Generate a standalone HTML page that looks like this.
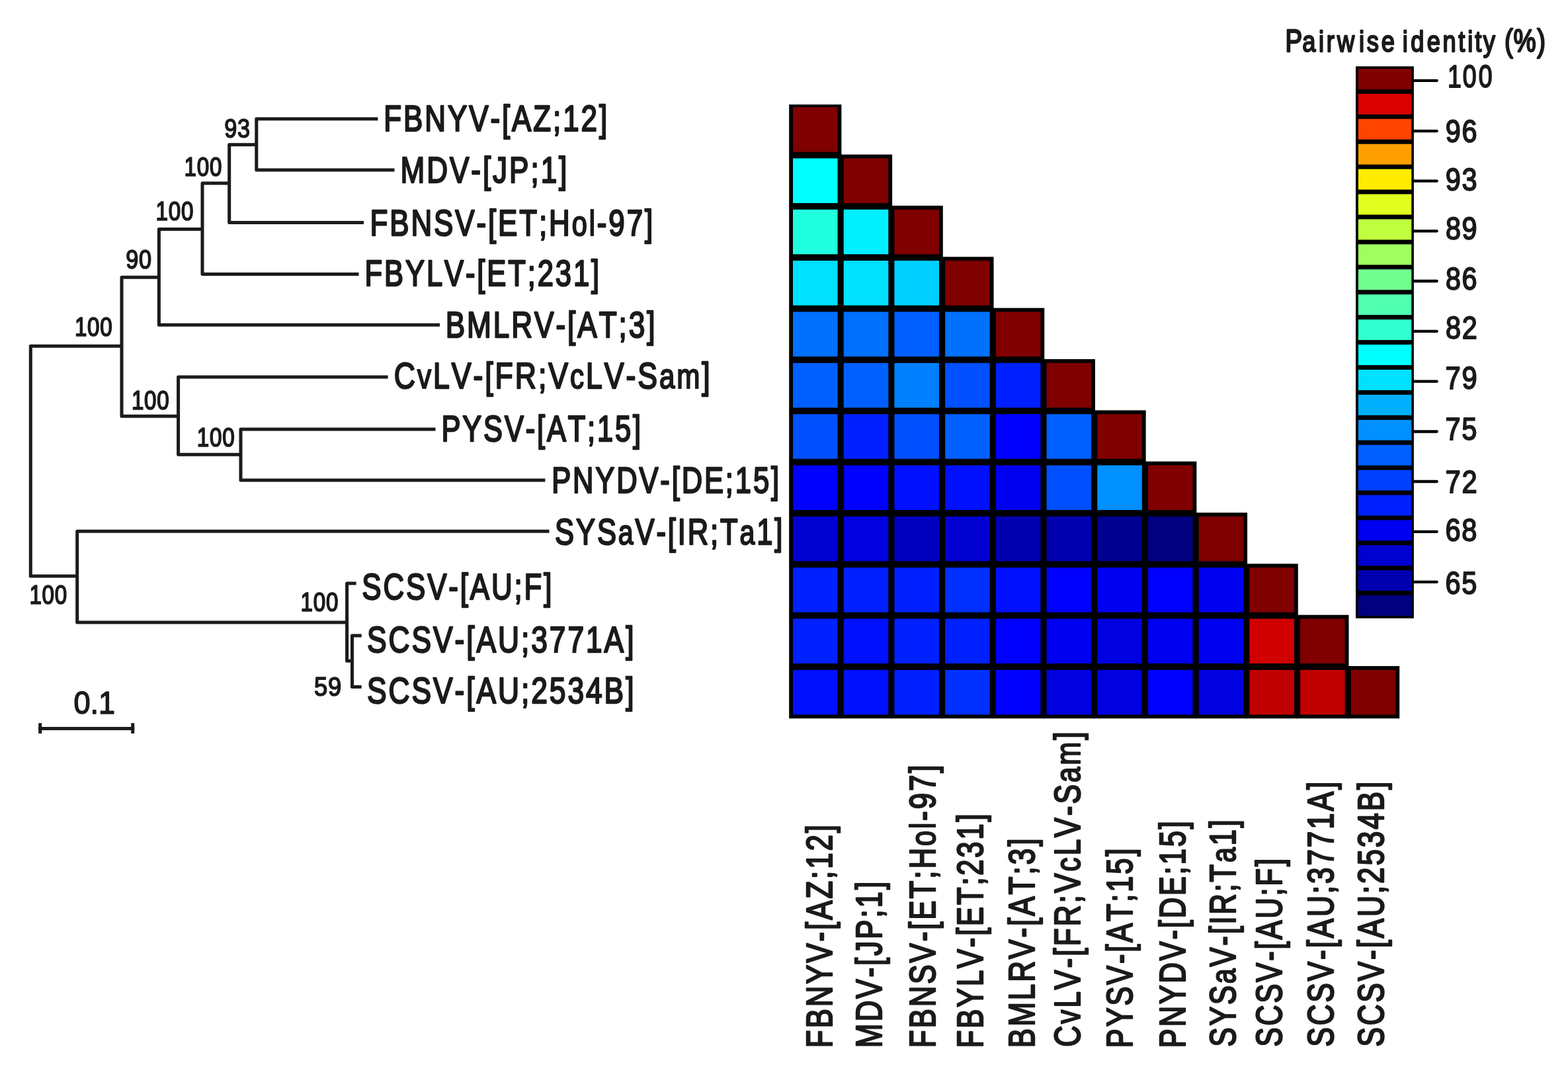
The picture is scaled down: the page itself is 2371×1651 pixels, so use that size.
<!DOCTYPE html>
<html lang="en"><head><meta charset="utf-8"><title>Phylogenetic tree and pairwise identity matrix</title>
<style>html,body{margin:0;padding:0;background:#fff}body{width:2371px;height:1651px;overflow:hidden}svg{display:block}text{font-family:"Liberation Sans",sans-serif;fill:#1c1a1b;stroke:#1c1a1b;stroke-linejoin:round;stroke-linecap:round;font-kerning:none;vector-effect:non-scaling-stroke}</style>
</head><body>
<svg width="2371" height="1651" viewBox="0 0 2371 1651">
<rect width="2371" height="1651" fill="#fff"/>
<path d="M184.0 523.3H46.3V871.0H116.7M240.4 419.2H184.0V629.3H269.6M306.0 346.5H240.4V491.3H665.0M346.7 277.0H306.0V414.6H542.5M387.8 218.8H346.7V336.6H550.0M571.4 179.8H387.8V257.0H596.5M586.6 570.0H269.6V687.3H364.0M658.5 648.9H364.0V726.0H824.4M830.5 803.3H116.7V941.0H524.6M538.6 882.0H524.6V999.2H532.5M546.7 961.0H532.5V1038.6H546.7M58.2 1101.4H203.2" fill="none" stroke="#1c1a1b" stroke-width="5.0" stroke-linejoin="round"/>
<path d="M60.7 1093.2V1109M200.7 1093.2V1109" fill="none" stroke="#1c1a1b" stroke-width="5.0"/>
<g stroke="#000" stroke-width="5.80">
<rect x="1196.10" y="159.20" width="73.40" height="73.40" fill="rgb(128,0,0)"/>
<rect x="1196.10" y="236.54" width="73.40" height="73.40" fill="rgb(0,255,255)"/>
<rect x="1272.81" y="236.54" width="73.40" height="73.40" fill="rgb(128,0,0)"/>
<rect x="1196.10" y="313.88" width="73.40" height="73.40" fill="rgb(32,255,223)"/>
<rect x="1272.81" y="313.88" width="73.40" height="73.40" fill="rgb(0,240,255)"/>
<rect x="1349.52" y="313.88" width="73.40" height="73.40" fill="rgb(128,0,0)"/>
<rect x="1196.10" y="391.22" width="73.40" height="73.40" fill="rgb(0,224,255)"/>
<rect x="1272.81" y="391.22" width="73.40" height="73.40" fill="rgb(0,224,255)"/>
<rect x="1349.52" y="391.22" width="73.40" height="73.40" fill="rgb(0,208,255)"/>
<rect x="1426.23" y="391.22" width="73.40" height="73.40" fill="rgb(128,0,0)"/>
<rect x="1196.10" y="468.56" width="73.40" height="73.40" fill="rgb(0,112,255)"/>
<rect x="1272.81" y="468.56" width="73.40" height="73.40" fill="rgb(0,112,255)"/>
<rect x="1349.52" y="468.56" width="73.40" height="73.40" fill="rgb(0,96,255)"/>
<rect x="1426.23" y="468.56" width="73.40" height="73.40" fill="rgb(0,112,255)"/>
<rect x="1502.94" y="468.56" width="73.40" height="73.40" fill="rgb(128,0,0)"/>
<rect x="1196.10" y="545.90" width="73.40" height="73.40" fill="rgb(0,96,255)"/>
<rect x="1272.81" y="545.90" width="73.40" height="73.40" fill="rgb(0,96,255)"/>
<rect x="1349.52" y="545.90" width="73.40" height="73.40" fill="rgb(0,128,255)"/>
<rect x="1426.23" y="545.90" width="73.40" height="73.40" fill="rgb(0,80,255)"/>
<rect x="1502.94" y="545.90" width="73.40" height="73.40" fill="rgb(0,32,255)"/>
<rect x="1579.65" y="545.90" width="73.40" height="73.40" fill="rgb(128,0,0)"/>
<rect x="1196.10" y="623.24" width="73.40" height="73.40" fill="rgb(0,80,255)"/>
<rect x="1272.81" y="623.24" width="73.40" height="73.40" fill="rgb(0,32,255)"/>
<rect x="1349.52" y="623.24" width="73.40" height="73.40" fill="rgb(0,80,255)"/>
<rect x="1426.23" y="623.24" width="73.40" height="73.40" fill="rgb(0,96,255)"/>
<rect x="1502.94" y="623.24" width="73.40" height="73.40" fill="rgb(0,0,255)"/>
<rect x="1579.65" y="623.24" width="73.40" height="73.40" fill="rgb(0,96,255)"/>
<rect x="1656.36" y="623.24" width="73.40" height="73.40" fill="rgb(128,0,0)"/>
<rect x="1196.10" y="700.58" width="73.40" height="73.40" fill="rgb(0,0,255)"/>
<rect x="1272.81" y="700.58" width="73.40" height="73.40" fill="rgb(0,0,255)"/>
<rect x="1349.52" y="700.58" width="73.40" height="73.40" fill="rgb(0,16,255)"/>
<rect x="1426.23" y="700.58" width="73.40" height="73.40" fill="rgb(0,16,255)"/>
<rect x="1502.94" y="700.58" width="73.40" height="73.40" fill="rgb(0,0,240)"/>
<rect x="1579.65" y="700.58" width="73.40" height="73.40" fill="rgb(0,80,255)"/>
<rect x="1656.36" y="700.58" width="73.40" height="73.40" fill="rgb(0,144,255)"/>
<rect x="1733.07" y="700.58" width="73.40" height="73.40" fill="rgb(128,0,0)"/>
<rect x="1196.10" y="777.92" width="73.40" height="73.40" fill="rgb(0,0,208)"/>
<rect x="1272.81" y="777.92" width="73.40" height="73.40" fill="rgb(0,0,224)"/>
<rect x="1349.52" y="777.92" width="73.40" height="73.40" fill="rgb(0,0,192)"/>
<rect x="1426.23" y="777.92" width="73.40" height="73.40" fill="rgb(0,0,208)"/>
<rect x="1502.94" y="777.92" width="73.40" height="73.40" fill="rgb(0,0,176)"/>
<rect x="1579.65" y="777.92" width="73.40" height="73.40" fill="rgb(0,0,176)"/>
<rect x="1656.36" y="777.92" width="73.40" height="73.40" fill="rgb(0,0,144)"/>
<rect x="1733.07" y="777.92" width="73.40" height="73.40" fill="rgb(0,0,128)"/>
<rect x="1809.78" y="777.92" width="73.40" height="73.40" fill="rgb(128,0,0)"/>
<rect x="1196.10" y="855.26" width="73.40" height="73.40" fill="rgb(0,32,255)"/>
<rect x="1272.81" y="855.26" width="73.40" height="73.40" fill="rgb(0,32,255)"/>
<rect x="1349.52" y="855.26" width="73.40" height="73.40" fill="rgb(0,32,255)"/>
<rect x="1426.23" y="855.26" width="73.40" height="73.40" fill="rgb(0,48,255)"/>
<rect x="1502.94" y="855.26" width="73.40" height="73.40" fill="rgb(0,16,255)"/>
<rect x="1579.65" y="855.26" width="73.40" height="73.40" fill="rgb(0,0,255)"/>
<rect x="1656.36" y="855.26" width="73.40" height="73.40" fill="rgb(0,0,240)"/>
<rect x="1733.07" y="855.26" width="73.40" height="73.40" fill="rgb(0,0,255)"/>
<rect x="1809.78" y="855.26" width="73.40" height="73.40" fill="rgb(0,0,240)"/>
<rect x="1886.49" y="855.26" width="73.40" height="73.40" fill="rgb(128,0,0)"/>
<rect x="1196.10" y="932.60" width="73.40" height="73.40" fill="rgb(0,32,255)"/>
<rect x="1272.81" y="932.60" width="73.40" height="73.40" fill="rgb(0,16,255)"/>
<rect x="1349.52" y="932.60" width="73.40" height="73.40" fill="rgb(0,32,255)"/>
<rect x="1426.23" y="932.60" width="73.40" height="73.40" fill="rgb(0,32,255)"/>
<rect x="1502.94" y="932.60" width="73.40" height="73.40" fill="rgb(0,0,255)"/>
<rect x="1579.65" y="932.60" width="73.40" height="73.40" fill="rgb(0,0,240)"/>
<rect x="1656.36" y="932.60" width="73.40" height="73.40" fill="rgb(0,0,224)"/>
<rect x="1733.07" y="932.60" width="73.40" height="73.40" fill="rgb(0,0,240)"/>
<rect x="1809.78" y="932.60" width="73.40" height="73.40" fill="rgb(0,0,240)"/>
<rect x="1886.49" y="932.60" width="73.40" height="73.40" fill="rgb(208,0,0)"/>
<rect x="1963.20" y="932.60" width="73.40" height="73.40" fill="rgb(128,0,0)"/>
<rect x="1196.10" y="1009.94" width="73.40" height="73.40" fill="rgb(0,16,255)"/>
<rect x="1272.81" y="1009.94" width="73.40" height="73.40" fill="rgb(0,16,255)"/>
<rect x="1349.52" y="1009.94" width="73.40" height="73.40" fill="rgb(0,32,255)"/>
<rect x="1426.23" y="1009.94" width="73.40" height="73.40" fill="rgb(0,48,255)"/>
<rect x="1502.94" y="1009.94" width="73.40" height="73.40" fill="rgb(0,0,255)"/>
<rect x="1579.65" y="1009.94" width="73.40" height="73.40" fill="rgb(0,0,224)"/>
<rect x="1656.36" y="1009.94" width="73.40" height="73.40" fill="rgb(0,0,224)"/>
<rect x="1733.07" y="1009.94" width="73.40" height="73.40" fill="rgb(0,0,255)"/>
<rect x="1809.78" y="1009.94" width="73.40" height="73.40" fill="rgb(0,0,224)"/>
<rect x="1886.49" y="1009.94" width="73.40" height="73.40" fill="rgb(192,0,0)"/>
<rect x="1963.20" y="1009.94" width="73.40" height="73.40" fill="rgb(192,0,0)"/>
<rect x="2039.91" y="1009.94" width="73.40" height="73.40" fill="rgb(128,0,0)"/>
</g>
<rect x="1185" y="150" width="95" height="8" fill="#fff"/>
<rect x="2050.0" y="100.3" width="87.90" height="834.50" fill="#000"/>
<g>
<rect x="2053.9" y="104.00" width="80.40" height="31.0" fill="rgb(128,0,0)"/>
<rect x="2053.9" y="141.91" width="80.40" height="31.0" fill="rgb(221,0,0)"/>
<rect x="2053.9" y="179.82" width="80.40" height="31.0" fill="rgb(255,68,0)"/>
<rect x="2053.9" y="217.73" width="80.40" height="31.0" fill="rgb(255,160,0)"/>
<rect x="2053.9" y="255.64" width="80.40" height="31.0" fill="rgb(255,236,0)"/>
<rect x="2053.9" y="293.55" width="80.40" height="31.0" fill="rgb(224,255,31)"/>
<rect x="2053.9" y="331.46" width="80.40" height="31.0" fill="rgb(192,255,63)"/>
<rect x="2053.9" y="369.37" width="80.40" height="31.0" fill="rgb(160,255,95)"/>
<rect x="2053.9" y="407.28" width="80.40" height="31.0" fill="rgb(112,255,143)"/>
<rect x="2053.9" y="445.19" width="80.40" height="31.0" fill="rgb(80,255,175)"/>
<rect x="2053.9" y="483.10" width="80.40" height="31.0" fill="rgb(48,255,207)"/>
<rect x="2053.9" y="521.01" width="80.40" height="31.0" fill="rgb(0,255,255)"/>
<rect x="2053.9" y="558.92" width="80.40" height="31.0" fill="rgb(0,224,255)"/>
<rect x="2053.9" y="596.83" width="80.40" height="31.0" fill="rgb(0,176,255)"/>
<rect x="2053.9" y="634.74" width="80.40" height="31.0" fill="rgb(0,144,255)"/>
<rect x="2053.9" y="672.65" width="80.40" height="31.0" fill="rgb(0,96,255)"/>
<rect x="2053.9" y="710.56" width="80.40" height="31.0" fill="rgb(0,64,255)"/>
<rect x="2053.9" y="748.47" width="80.40" height="31.0" fill="rgb(0,32,255)"/>
<rect x="2053.9" y="786.38" width="80.40" height="31.0" fill="rgb(0,0,240)"/>
<rect x="2053.9" y="824.29" width="80.40" height="31.0" fill="rgb(0,0,208)"/>
<rect x="2053.9" y="862.20" width="80.40" height="31.0" fill="rgb(0,0,176)"/>
<rect x="2053.9" y="900.11" width="80.40" height="31.0" fill="rgb(0,0,128)"/>
</g>
<path d="M2137 121.9H2172.7M2137 198.1H2172.7M2137 273.7H2172.7M2137 349.3H2172.7M2137 425.0H2172.7M2137 500.9H2172.7M2137 576.7H2172.7M2137 652.5H2172.7M2137 728.0H2172.7M2137 803.8H2172.7M2137 879.8H2172.7" fill="none" stroke="#000" stroke-width="4.3" stroke-linecap="round"/>
<g>
<text transform="translate(2189.00,131.90) scale(0.7710,1)" x="0.00 29.57 60.70" font-size="48.6" stroke-width="1.8">100</text>
<text transform="translate(2185.76,215.20) scale(0.8500,1)" font-size="48.6" stroke-width="1.8" letter-spacing="2.0">96</text>
<text transform="translate(2185.76,288.10) scale(0.8500,1)" font-size="48.6" stroke-width="1.8" letter-spacing="2.0">93</text>
<text transform="translate(2185.90,362.10) scale(0.8500,1)" font-size="48.6" stroke-width="1.8" letter-spacing="2.0">89</text>
<text transform="translate(2185.91,438.10) scale(0.8473,1)" font-size="48.6" stroke-width="1.8" letter-spacing="2.0">86</text>
<text transform="translate(2185.90,512.10) scale(0.8524,1)" font-size="48.6" stroke-width="1.8" letter-spacing="2.0">82</text>
<text transform="translate(2185.57,588.10) scale(0.8563,1)" font-size="48.6" stroke-width="1.8" letter-spacing="2.0">79</text>
<text transform="translate(2185.58,665.10) scale(0.8520,1)" font-size="48.6" stroke-width="1.8" letter-spacing="2.0">75</text>
<text transform="translate(2185.56,745.30) scale(0.8587,1)" font-size="48.6" stroke-width="1.8" letter-spacing="2.0">72</text>
<text transform="translate(2185.60,818.20) scale(0.8528,1)" font-size="48.6" stroke-width="1.8" letter-spacing="2.0">68</text>
<text transform="translate(2185.60,898.20) scale(0.8516,1)" font-size="48.6" stroke-width="1.8" letter-spacing="2.0">65</text>
<text transform="translate(1943.45,78.40) scale(0.8040,1)" x="0.00 32.12 62.80 77.59 97.79 138.90 153.40 180.77 205.84 220.57 235.95 266.54 296.04 325.49 343.20 356.77 372.18 394.71 412.51 429.02 473.77" font-size="47.7" stroke-width="2.3">P<tspan font-size="45.1">airwise</tspan> <tspan font-size="45.1">identity</tspan> (%)</text>
</g>
<g>
<text transform="translate(580.29,197.90) scale(0.7854,1)" font-size="56" stroke-width="2.2" letter-spacing="3.7">FBNYV-[AZ;12]</text>
<text transform="translate(605.48,275.70) scale(0.7885,1)" font-size="56" stroke-width="2.2" letter-spacing="3.7">MDV-[JP;1]</text>
<text transform="translate(559.50,355.50) scale(0.7845,1)" font-size="56" stroke-width="2.2" letter-spacing="3.7">FBNSV-[ET;H<tspan font-size="52.9">ol</tspan>-97]</text>
<text transform="translate(551.53,432.20) scale(0.7781,1)" font-size="56" stroke-width="2.2" letter-spacing="3.7">FBYLV-[ET;231]</text>
<text transform="translate(673.68,510.10) scale(0.7889,1)" font-size="56" stroke-width="2.2" letter-spacing="3.7">BMLRV-[AT;3]</text>
<text transform="translate(595.83,586.70) scale(0.7966,1)" font-size="56" stroke-width="2.2" letter-spacing="3.7">C<tspan font-size="52.9">v</tspan>LV-[FR;V<tspan font-size="52.9">c</tspan>LV-S<tspan font-size="52.9">am</tspan>]</text>
<text transform="translate(667.54,667.00) scale(0.7744,1)" font-size="56" stroke-width="2.2" letter-spacing="3.7">PYSV-[AT;15]</text>
<text transform="translate(834.13,745.10) scale(0.7771,1)" font-size="56" stroke-width="2.2" letter-spacing="3.7">PNYDV-[DE;15]</text>
<text transform="translate(839.12,822.50) scale(0.7773,1)" font-size="56" stroke-width="2.2" letter-spacing="3.7">SYS<tspan font-size="52.9">a</tspan>V-[IR;T<tspan font-size="52.9">a</tspan>1]</text>
<text transform="translate(547.31,906.40) scale(0.7830,1)" font-size="56" stroke-width="2.2" letter-spacing="3.7">SCSV-[AU;F]</text>
<text transform="translate(554.88,986.30) scale(0.7925,1)" font-size="56" stroke-width="2.2" letter-spacing="3.7">SCSV-[AU;3771A]</text>
<text transform="translate(554.88,1063.10) scale(0.7925,1)" font-size="56" stroke-width="2.2" letter-spacing="3.7">SCSV-[AU;2534B]</text>
</g>
<g>
<text transform="translate(339.29,207.60) scale(0.8550,1)" font-size="40" stroke-width="1.6" letter-spacing="0.9">93</text>
<text transform="translate(278.61,266.00) scale(0.8300,1)" font-size="40" stroke-width="1.6" letter-spacing="0.9">100</text>
<text transform="translate(235.61,333.20) scale(0.8300,1)" font-size="40" stroke-width="1.6" letter-spacing="0.9">100</text>
<text transform="translate(190.13,406.00) scale(0.8550,1)" font-size="40" stroke-width="1.6" letter-spacing="0.9">90</text>
<text transform="translate(112.91,508.00) scale(0.8300,1)" font-size="40" stroke-width="1.6" letter-spacing="0.9">100</text>
<text transform="translate(198.91,619.10) scale(0.8300,1)" font-size="40" stroke-width="1.6" letter-spacing="0.9">100</text>
<text transform="translate(297.81,674.70) scale(0.8300,1)" font-size="40" stroke-width="1.6" letter-spacing="0.9">100</text>
<text transform="translate(44.41,913.30) scale(0.8300,1)" font-size="40" stroke-width="1.6" letter-spacing="0.9">100</text>
<text transform="translate(454.61,923.50) scale(0.8300,1)" font-size="40" stroke-width="1.6" letter-spacing="0.9">100</text>
<text transform="translate(475.02,1052.00) scale(0.9100,1)" font-size="40" stroke-width="1.6" letter-spacing="0.9">59</text>
<text transform="translate(111.49,1079.20) scale(0.9400,1)" font-size="48" stroke-width="1.5">0.1</text>
</g>
<g>
<text transform="translate(1257.50,1584.20) rotate(-90) scale(0.7838,1)" font-size="56" stroke-width="2.2" letter-spacing="3.7">FBNYV-[AZ;12]</text>
<text transform="translate(1333.00,1584.21) rotate(-90) scale(0.7869,1)" font-size="56" stroke-width="2.2" letter-spacing="3.7">MDV-[JP;1]</text>
<text transform="translate(1414.10,1584.20) rotate(-90) scale(0.7845,1)" font-size="56" stroke-width="2.2" letter-spacing="3.7">FBNSV-[ET;H<tspan font-size="52.9">ol</tspan>-97]</text>
<text transform="translate(1485.70,1584.17) rotate(-90) scale(0.7761,1)" font-size="56" stroke-width="2.2" letter-spacing="3.7">FBYLV-[ET;231]</text>
<text transform="translate(1563.50,1584.22) rotate(-90) scale(0.7886,1)" font-size="56" stroke-width="2.2" letter-spacing="3.7">BMLRV-[AT;3]</text>
<text transform="translate(1633.30,1582.86) rotate(-90) scale(0.7943,1)" font-size="56" stroke-width="2.2" letter-spacing="3.7">C<tspan font-size="52.9">v</tspan>LV-[FR;V<tspan font-size="52.9">c</tspan>LV-S<tspan font-size="52.9">am</tspan>]</text>
<text transform="translate(1711.50,1584.16) rotate(-90) scale(0.7744,1)" font-size="56" stroke-width="2.2" letter-spacing="3.7">PYSV-[AT;15]</text>
<text transform="translate(1792.10,1584.16) rotate(-90) scale(0.7744,1)" font-size="56" stroke-width="2.2" letter-spacing="3.7">PNYDV-[DE;15]</text>
<text transform="translate(1867.50,1582.57) rotate(-90) scale(0.7750,1)" font-size="56" stroke-width="2.2" letter-spacing="3.7">SYS<tspan font-size="52.9">a</tspan>V-[IR;T<tspan font-size="52.9">a</tspan>1]</text>
<text transform="translate(1938.00,1582.57) rotate(-90) scale(0.7758,1)" font-size="56" stroke-width="2.2" letter-spacing="3.7">SCSV-[AU;F]</text>
<text transform="translate(2016.20,1582.60) rotate(-90) scale(0.7872,1)" font-size="56" stroke-width="2.2" letter-spacing="3.7">SCSV-[AU;3771A]</text>
<text transform="translate(2092.40,1582.60) rotate(-90) scale(0.7872,1)" font-size="56" stroke-width="2.2" letter-spacing="3.7">SCSV-[AU;2534B]</text>
</g>
</svg></body></html>
